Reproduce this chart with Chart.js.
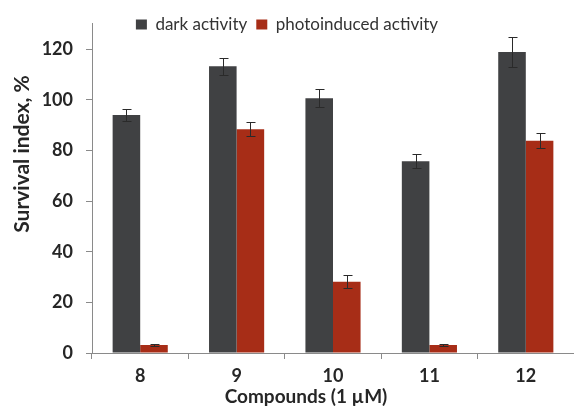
<!DOCTYPE html>
<html>
<head>
<meta charset="utf-8">
<script src="https://cdn.jsdelivr.net/npm/chart.js@4/dist/chart.umd.min.js"></script>
<style>
  html, body { margin: 0; padding: 0; background: #fff; }
  canvas { display: block; }
</style>
</head>
<body>
<canvas id="survivalChart" width="574" height="406"></canvas>
<script>
// ── Data ──────────────────────────────────────────────────────────────────────

const compounds     = ['8', '9', '10', '11', '12'];
const darkActivity  = [94.0, 113.2, 100.6, 75.7, 118.9];
const darkError     = [2.3, 3.4, 3.6, 2.7, 5.8];
const photoActivity = [3.2, 88.4, 28.1, 3.2, 83.8];
const photoError    = [0.3, 2.9, 2.6, 0.3, 2.9];
const yTicks        = [0, 20, 40, 60, 80, 100, 120];
const Y_MAX = 130;

const TEXT = '#262626';
const AXIS = '#8a8a8a';
const FONT = 'Lato, "Noto Sans", sans-serif';

// ── Plugins ───────────────────────────────────────────────────────────────────

// error bars drawn through the y scale
const errorBars = {
  id: 'errorBars',
  afterDatasetsDraw(chart) {
    const ctx = chart.ctx;
    const y = chart.scales.y;
    ctx.save();
    ctx.strokeStyle = '#2a2a2a';
    ctx.lineWidth = 1;
    chart.data.datasets.forEach((ds, di) => {
      chart.getDatasetMeta(di).data.forEach((bar, i) => {
        const v = ds.data[i], e = ds.errors[i];
        const x = Math.round(bar.x) + 0.5;
        const top = Math.round(y.getPixelForValue(v + e)) + 0.5;
        const bot = Math.round(y.getPixelForValue(v - e)) + 0.5;
        ctx.beginPath();
        ctx.moveTo(x, top); ctx.lineTo(x, bot);
        ctx.moveTo(x - 4, top); ctx.lineTo(x + 5, top);
        ctx.moveTo(x - 4, bot); ctx.lineTo(x + 5, bot);
        ctx.stroke();
      });
    });
    ctx.restore();
  },
};

// legend sits inside the plot, over the bars' headroom
const legendOverlay = {
  id: 'legendOverlay',
  beforeLayout(chart) {
    const lg = chart.legend;
    if (lg && !lg._overlay) {
      const fit = lg.fit;
      lg.fit = function () { fit.call(this); this.height = 0; };
      lg._overlay = true;
    }
  },
  afterLayout(chart) {
    const lg = chart.legend;
    lg.top = 7;
    lg.bottom = 49;
    lg.height = 42;
  },
};

// axis titles, placed where the original has them
const axisTitles = {
  id: 'axisTitles',
  afterDraw(chart) {
    const ctx = chart.ctx;
    ctx.save();
    ctx.fillStyle = TEXT;
    ctx.textAlign = 'center';
    ctx.textBaseline = 'middle';
    ctx.font = `bold 21px ${FONT}`;
    ctx.translate(22, 154);
    ctx.rotate(-Math.PI / 2);
    ctx.fillText('Survival index, %', 0, 0);
    ctx.restore();

    ctx.save();
    ctx.fillStyle = TEXT;
    ctx.textAlign = 'center';
    ctx.textBaseline = 'middle';
    ctx.font = `bold 19px ${FONT}`;
    ctx.fillText('Compounds (1 \u00b5M)', 306, 397);
    ctx.restore();
  },
};

// ── Chart ─────────────────────────────────────────────────────────────────────

new Chart(document.getElementById('survivalChart').getContext('2d'), {
  type: 'bar',
  data: {
    labels: compounds,
    datasets: [
      {
        label: 'dark activity',
        data: darkActivity,
        errors: darkError,
        backgroundColor: '#404143',
        borderWidth: 0,
      },
      {
        label: 'photoinduced activity',
        data: photoActivity,
        errors: photoError,
        backgroundColor: '#a72d17',
        borderWidth: 0,
      },
    ],
  },
  options: {
    responsive: false,
    devicePixelRatio: 1,
    animation: false,
    categoryPercentage: 0.572,
    barPercentage: 1.0,
    layout: { padding: { top: 16, right: 0, bottom: 0, left: 0 } },
    plugins: {
      legend: {
        display: true,
        position: 'top',
        labels: {
          color: '#333',
          font: { family: FONT, size: 17 },
          boxWidth: 11,
          boxHeight: 10,
          padding: 9,
        },
      },
      tooltip: { enabled: false },
    },
    scales: {
      x: {
        offset: true,
        afterFit: s => { s.height = 53; },
        border: { display: true, color: AXIS, width: 1 },
        grid: {
          offset: true,
          drawOnChartArea: false,
          drawTicks: true,
          tickLength: 6,
          color: AXIS,
        },
        ticks: {
          color: TEXT,
          font: { family: FONT, size: 18, weight: 'bold' },
          padding: 6,
          maxRotation: 0,
        },
      },
      y: {
        min: 0,
        max: Y_MAX,
        afterFit: s => { s.width = 92; },
        afterBuildTicks: s => { s.ticks = yTicks.map(v => ({ value: v })); },
        border: { display: true, color: AXIS, width: 1 },
        grid: {
          drawOnChartArea: false,
          drawTicks: true,
          tickLength: 6,
          color: AXIS,
        },
        ticks: {
          color: TEXT,
          font: { family: FONT, size: 18, weight: 'bold' },
          padding: 13,
        },
      },
    },
  },
  plugins: [legendOverlay, errorBars, axisTitles],
});
</script>
</body>
</html>
